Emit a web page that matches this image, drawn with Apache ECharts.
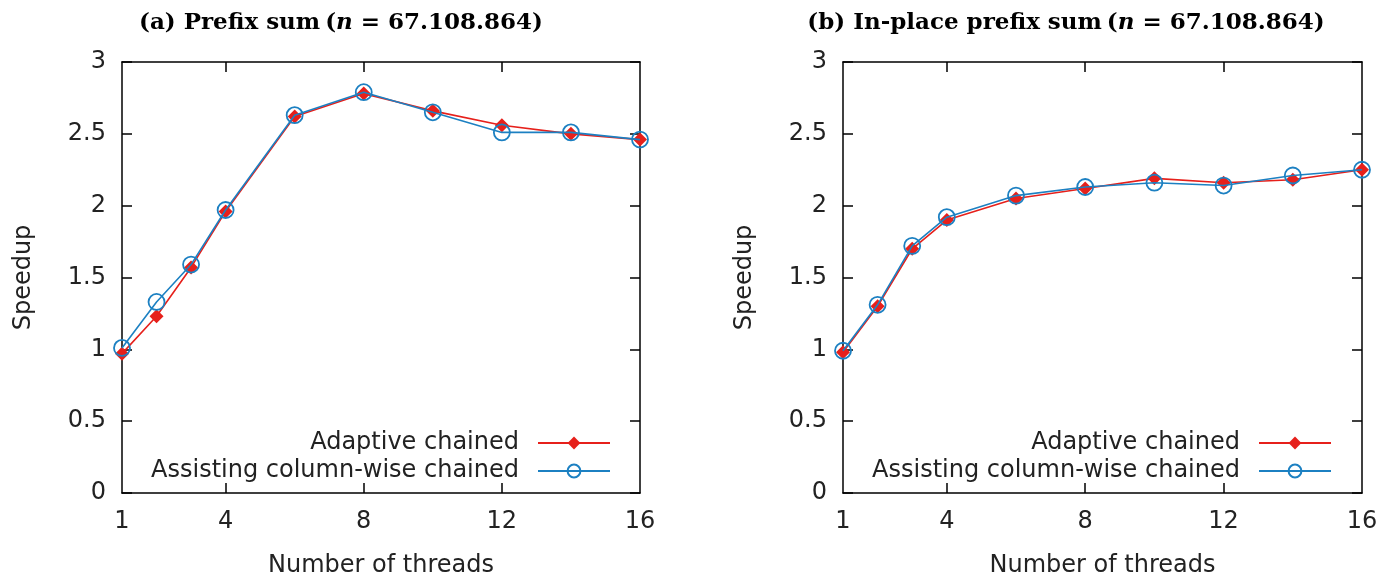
<!DOCTYPE html>
<html>
<head>
<meta charset="utf-8">
<script src="https://cdn.jsdelivr.net/npm/echarts@6/dist/echarts.min.js"></script>
<style>
  html, body { margin: 0; padding: 0; background: #fff; }
  #chart { width: 1383px; height: 575px; }
</style>
</head>
<body>
<div id="chart"></div>
<script>
const threads = [1, 2, 3, 4, 6, 8, 10, 12, 14, 16]
const xTickValues = [1, 4, 8, 12, 16]

// (a) Prefix sum
const prefixAdaptive = [0.97, 1.23, 1.57, 1.96, 2.62, 2.78, 2.66, 2.56, 2.50, 2.46]
const prefixAssisting = [1.01, 1.33, 1.59, 1.97, 2.63, 2.79, 2.65, 2.51, 2.51, 2.46]

// (b) In-place prefix sum
const inplaceAdaptive = [0.98, 1.30, 1.70, 1.90, 2.05, 2.12, 2.19, 2.16, 2.18, 2.25]
const inplaceAssisting = [0.99, 1.31, 1.72, 1.92, 2.07, 2.13, 2.16, 2.14, 2.21, 2.25]

const seriesNames = ['Adaptive chained', 'Assisting column-wise chained']
const RED = '#e6201b'
const BLUE = '#1c80c2'
const SANS = 'DejaVu Sans'
const SERIF = 'DejaVu Serif'
const FS = 24

const pairs = (vals) => threads.map((t, i) => [t, vals[i]])

const panels = [
  { left: 122, right: 743 },
  { left: 843, right: 21 },
]

function xAxes(gi) {
  return [
    {
      type: 'value', gridIndex: gi, min: 1, max: 16, position: 'bottom',
      name: 'Number of threads', nameLocation: 'middle', nameGap: 61,
      nameTextStyle: { fontFamily: SANS, fontSize: FS, color: '#222' },
      axisLine: { onZero: false, lineStyle: { color: '#000', width: 1.5 } },
      axisTick: { inside: true, length: 10, customValues: [4, 8, 12], lineStyle: { color: '#000', width: 1.5 } },
      axisLabel: { customValues: xTickValues, fontFamily: SANS, fontSize: FS, color: '#222', margin: 17 },
      splitLine: { show: false },
    },
    {
      type: 'value', gridIndex: gi, min: 1, max: 16, position: 'top',
      axisLine: { onZero: false, lineStyle: { color: '#000', width: 1.5 } },
      axisTick: { inside: true, length: 10, customValues: [4, 8, 12], lineStyle: { color: '#000', width: 1.5 } },
      axisLabel: { show: false },
      splitLine: { show: false },
    },
  ]
}

function yAxes(gi) {
  return [
    {
      type: 'value', gridIndex: gi, min: 0, max: 3, interval: 0.5, position: 'left',
      name: 'Speedup', nameLocation: 'middle', nameGap: 86,
      nameTextStyle: { fontFamily: SANS, fontSize: FS, color: '#222' },
      axisLine: { show: true, onZero: false, lineStyle: { color: '#000', width: 1.5 } },
      axisTick: { show: true, inside: true, length: 10, lineStyle: { color: '#000', width: 1.5 } },
      axisLabel: { fontFamily: SANS, fontSize: FS, color: '#222', margin: 16 },
      splitLine: { show: false },
    },
    {
      type: 'value', gridIndex: gi, min: 0, max: 3, interval: 0.5, position: 'right',
      axisLine: { show: true, onZero: false, lineStyle: { color: '#000', width: 1.5 } },
      axisTick: { show: true, inside: true, length: 10, lineStyle: { color: '#000', width: 1.5 } },
      axisLabel: { show: false },
      splitLine: { show: false },
    },
  ]
}

function lineSeries(name, gi, vals, color, symbol, size) {
  const hollow = symbol === 'circle'
  return {
    name, type: 'line', xAxisIndex: gi * 2, yAxisIndex: gi * 2,
    data: pairs(vals),
    symbol, symbolSize: size,
    lineStyle: { color, width: 1.6 },
    itemStyle: hollow
      ? { color: 'rgba(0,0,0,0)', borderColor: color, borderWidth: 1.8 }
      : { color, borderWidth: 0 },
    z: hollow ? 3 : 2,
    emphasis: { disabled: true },
  }
}

function titleOf(letter, label, cx) {
  return {
    left: cx, top: 7, textAlign: 'center',
    text: `{b|(${letter}) ${label}} {r|(}{i|n}{r| = 67.108.864)}`,
    textStyle: {
      rich: {
        b: { fontFamily: SERIF, fontWeight: 'bold', fontSize: 23, color: '#000' },
        r: { fontFamily: SERIF, fontSize: 23, color: '#000' },
        i: { fontFamily: SERIF, fontStyle: 'italic', fontSize: 23, color: '#000' },
      },
    },
  }
}

function legendOf(right) {
  return {
    data: seriesNames,
    orient: 'vertical', align: 'right',
    right, top: 426,
    itemWidth: 72, itemHeight: 16, itemGap: 4,
    textStyle: { fontFamily: SANS, fontSize: FS, lineHeight: 24, color: '#222', padding: [0, 14, 0, 0] },
    selectedMode: false,
  }
}

const chart = echarts.init(document.getElementById('chart'))
chart.setOption({
  animation: false,
  backgroundColor: '#fff',
  title: [
    titleOf('a', 'Prefix sum', 336),
    titleOf('b', 'In-place prefix sum', 1061),
  ],
  legend: [legendOf(767), legendOf(46)],
  grid: panels.map(p => ({
    left: p.left, right: p.right, top: 62, bottom: 82,
    outerBoundsMode: 'none', containLabel: false,
  })),
  xAxis: [...xAxes(0), ...xAxes(1)],
  yAxis: [...yAxes(0), ...yAxes(1)],
  series: [
    lineSeries(seriesNames[0], 0, prefixAdaptive, RED, 'diamond', 14),
    lineSeries(seriesNames[1], 0, prefixAssisting, BLUE, 'circle', 16),
    lineSeries(seriesNames[0], 1, inplaceAdaptive, RED, 'diamond', 14),
    lineSeries(seriesNames[1], 1, inplaceAssisting, BLUE, 'circle', 16),
  ],
})
</script>
</body>
</html>
